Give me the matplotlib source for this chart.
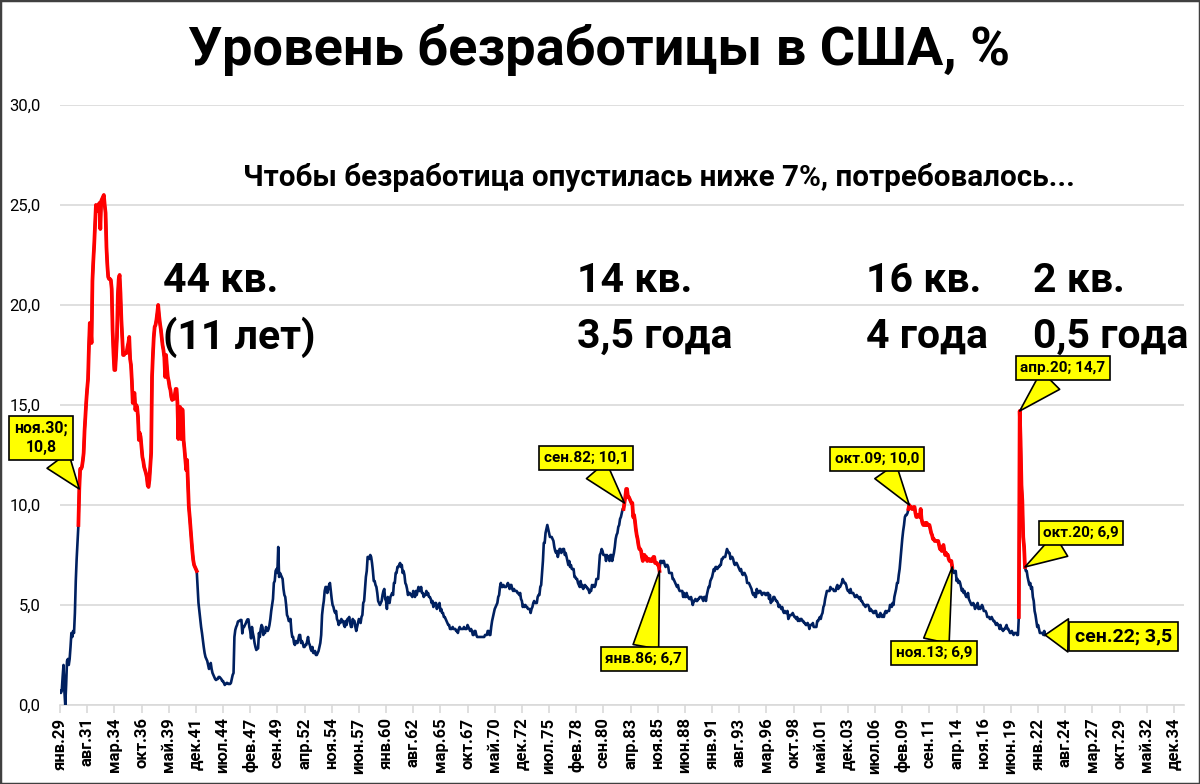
import numpy as np
import matplotlib
matplotlib.use("Agg")
import matplotlib.pyplot as plt
from matplotlib.patches import Rectangle

plt.rcParams['font.family'] = ['Roboto', 'DejaVu Sans']

# Уровень безработицы, % (помесячно, с января 1929)
unemp_1929_1939 = [
    0.7, 0.6, 0.7, 1.4, 2.0, 0.7, 0.0, 1.0, 2.2, 2.3, 2.0, 2.3,
    2.9, 3.6, 3.4, 3.7, 3.6, 4.6, 6.2, 7.3, 8.2, 9.0, 10.8, 11.8,
    11.8, 11.9, 12.2, 12.6, 13.7, 14.5, 15.2, 15.8, 16.3, 17.9, 19.1, 18.8,
    18.1, 21.2, 22.2, 23.0, 24.0, 25.0, 24.8, 24.7, 25.0, 25.1, 23.8, 25.2,
    25.3, 25.4, 25.5, 25.0, 24.6, 22.9, 22.0, 21.4, 21.3, 21.3, 21.25, 20.8,
    18.75, 17.6, 16.75, 16.75, 17.5, 18.4, 20.5, 21.3, 21.5, 20.6, 19.3, 18.4,
    17.5, 17.5, 17.6, 17.6, 17.6, 17.9, 18.1, 18.4, 17.3, 17.0, 16.2, 15.1,
    15.5, 15.6, 14.75, 15.0, 14.9, 14.4, 13.25, 13.6, 13.4, 12.9, 12.4, 12.2,
    11.9, 11.75, 11.6, 11.4, 11.0, 10.9, 11.25, 11.9, 12.6, 16.4, 17.5, 18.4,
    18.9, 19.0, 19.25, 19.6, 20.0, 19.5, 19.1, 18.8, 18.4, 18.0, 17.75, 17.4,
    16.4, 17.5, 16.9, 16.4, 16.2, 15.9, 15.75, 15.4, 15.25, 15.4, 15.3, 15.5,
]
unemp_1940_1947 = [
    15.8, 15.8, 15.1, 13.3, 14.9, 14.9, 13.3, 14.8, 14.75, 13.25, 12.8, 12.25,
    11.75, 12.25, 11.0, 9.9, 9.4, 8.8, 8.25, 7.7, 7.25, 7.0, 6.9, 6.8,
    6.7, 5.9, 5.1, 4.7, 4.3, 3.9, 3.6, 3.25, 2.9, 2.6, 2.4, 2.3,
    2.2, 2.0, 1.8, 1.9, 2.1, 1.8, 1.6, 1.5, 1.4, 1.3, 1.25, 1.3,
    1.3, 1.4, 1.4, 1.35, 1.3, 1.2, 1.2, 1.1, 1.0, 1.05, 1.1, 1.1,
    1.05, 1.05, 1.05, 1.1, 1.3, 1.5, 1.6, 3.4, 3.75, 3.9, 4.0, 4.17,
    4.2, 4.2, 4.25, 4.25, 3.58, 3.9, 3.9, 4.0, 4.08, 4.2, 4.28, 4.28,
    3.9, 3.7, 3.33, 3.9, 3.6, 3.4, 3.1, 2.9, 2.75, 2.8, 2.83, 3.6,
]
unemp_1948_1959 = [
    3.4, 3.8, 4.0, 3.9, 3.5, 3.6, 3.6, 3.9, 3.8, 3.7, 3.8, 4.0,
    4.3, 4.7, 5.0, 5.3, 6.1, 6.2, 6.7, 6.8, 6.6, 7.9, 6.4, 6.6,
    6.5, 6.4, 6.3, 5.8, 5.5, 5.4, 5.0, 4.5, 4.4, 4.2, 4.2, 4.3,
    3.7, 3.4, 3.4, 3.1, 3.0, 3.2, 3.1, 3.1, 3.3, 3.5, 3.5, 3.1,
    3.2, 3.1, 2.9, 2.9, 3.0, 3.0, 3.2, 3.4, 3.1, 3.0, 2.8, 2.7,
    2.9, 2.6, 2.6, 2.7, 2.5, 2.5, 2.6, 2.7, 2.9, 3.1, 3.5, 4.5,
    4.9, 5.2, 5.7, 5.9, 5.9, 5.6, 5.8, 6.0, 6.1, 5.7, 5.3, 5.0,
    4.9, 4.7, 4.6, 4.7, 4.3, 4.2, 4.0, 4.2, 4.1, 4.3, 4.2, 4.2,
    4.0, 3.9, 4.2, 4.0, 4.3, 4.3, 4.4, 4.1, 3.9, 3.9, 4.3, 4.2,
    4.2, 3.9, 3.7, 3.9, 4.1, 4.3, 4.2, 4.1, 4.4, 4.5, 5.1, 5.2,
    5.8, 6.4, 6.7, 7.4, 7.4, 7.3, 7.5, 7.4, 7.1, 6.7, 6.2, 6.2,
    6.0, 5.9, 5.6, 5.2, 5.1, 5.0, 5.1, 5.2, 5.5, 5.7, 5.8, 5.3,
]
unemp_1960_1969 = [
    5.2, 4.8, 5.4, 5.2, 5.1, 5.4, 5.5, 5.6, 5.5, 6.1, 6.1, 6.6,
    6.6, 6.9, 6.9, 7.0, 7.1, 6.9, 7.0, 6.6, 6.7, 6.5, 6.1, 6.0,
    5.8, 5.5, 5.6, 5.6, 5.5, 5.5, 5.4, 5.7, 5.6, 5.4, 5.7, 5.5,
    5.7, 5.9, 5.7, 5.7, 5.9, 5.6, 5.6, 5.4, 5.5, 5.5, 5.7, 5.5,
    5.6, 5.4, 5.4, 5.3, 5.1, 5.2, 4.9, 5.0, 5.1, 5.1, 4.8, 5.0,
    4.9, 5.1, 4.7, 4.8, 4.6, 4.6, 4.4, 4.4, 4.3, 4.2, 4.1, 4.0,
    4.0, 3.8, 3.8, 3.8, 3.9, 3.8, 3.8, 3.8, 3.7, 3.7, 3.6, 3.8,
    3.9, 3.8, 3.8, 3.8, 3.8, 3.9, 3.8, 3.8, 3.8, 4.0, 3.9, 3.8,
    3.7, 3.8, 3.7, 3.5, 3.5, 3.7, 3.7, 3.5, 3.4, 3.4, 3.4, 3.4,
    3.4, 3.4, 3.4, 3.4, 3.4, 3.5, 3.5, 3.5, 3.7, 3.7, 3.5, 3.5,
]
unemp_1970_1979 = [
    3.9, 4.2, 4.4, 4.6, 4.8, 4.9, 5.0, 5.1, 5.4, 5.5, 5.9, 6.1,
    5.9, 5.9, 6.0, 5.9, 5.9, 5.9, 6.0, 6.1, 6.0, 5.8, 6.0, 6.0,
    5.8, 5.7, 5.8, 5.7, 5.7, 5.7, 5.6, 5.6, 5.5, 5.6, 5.3, 5.2,
    4.9, 5.0, 4.9, 5.0, 4.9, 4.9, 4.8, 4.8, 4.8, 4.6, 4.8, 4.9,
    5.1, 5.2, 5.1, 5.1, 5.1, 5.4, 5.5, 5.5, 5.9, 6.0, 6.6, 7.2,
    8.1, 8.1, 8.6, 8.8, 9.0, 8.8, 8.6, 8.4, 8.4, 8.4, 8.3, 8.2,
    7.9, 7.7, 7.6, 7.7, 7.4, 7.6, 7.8, 7.8, 7.6, 7.7, 7.8, 7.8,
    7.5, 7.6, 7.4, 7.2, 7.0, 7.2, 6.9, 7.0, 6.8, 6.8, 6.8, 6.4,
    6.4, 6.3, 6.3, 6.1, 6.0, 5.9, 6.2, 5.9, 6.0, 5.8, 5.9, 6.0,
    5.9, 5.9, 5.8, 5.8, 5.6, 5.7, 5.7, 6.0, 5.9, 6.0, 5.9, 6.0,
]
unemp_1980_1989 = [
    6.3, 6.3, 6.3, 6.9, 7.5, 7.6, 7.8, 7.7, 7.5, 7.5, 7.5, 7.2,
    7.5, 7.4, 7.4, 7.2, 7.5, 7.5, 7.2, 7.4, 7.6, 7.9, 8.3, 8.5,
    8.6, 8.9, 9.0, 9.3, 9.4, 9.6, 9.8, 9.8, 10.1, 10.4, 10.8, 10.8,
    10.4, 10.4, 10.3, 10.2, 10.1, 10.1, 9.4, 9.5, 9.2, 8.8, 8.5, 8.3,
    8.0, 7.8, 7.8, 7.7, 7.4, 7.2, 7.5, 7.5, 7.3, 7.4, 7.2, 7.3,
    7.3, 7.2, 7.2, 7.3, 7.2, 7.4, 7.4, 7.1, 7.1, 7.1, 7.0, 7.0,
    6.7, 7.2, 7.2, 7.1, 7.2, 7.2, 7.0, 6.9, 7.0, 7.0, 6.9, 6.6,
    6.6, 6.6, 6.6, 6.3, 6.3, 6.2, 6.1, 6.0, 5.9, 6.0, 5.8, 5.7,
    5.7, 5.7, 5.7, 5.4, 5.6, 5.4, 5.4, 5.6, 5.4, 5.4, 5.3, 5.3,
    5.4, 5.2, 5.0, 5.2, 5.2, 5.3, 5.2, 5.2, 5.3, 5.3, 5.4, 5.4,
]
unemp_1990_1999 = [
    5.4, 5.3, 5.2, 5.4, 5.4, 5.2, 5.5, 5.7, 5.9, 5.9, 6.2, 6.3,
    6.4, 6.6, 6.8, 6.7, 6.9, 6.9, 6.8, 6.9, 6.9, 7.0, 7.0, 7.3,
    7.3, 7.4, 7.4, 7.4, 7.6, 7.8, 7.7, 7.6, 7.6, 7.3, 7.4, 7.4,
    7.3, 7.1, 7.0, 7.1, 7.1, 7.0, 6.9, 6.8, 6.7, 6.8, 6.6, 6.5,
    6.6, 6.6, 6.5, 6.4, 6.1, 6.1, 6.1, 6.0, 5.9, 5.8, 5.6, 5.5,
    5.6, 5.4, 5.4, 5.8, 5.6, 5.6, 5.7, 5.7, 5.6, 5.5, 5.6, 5.6,
    5.6, 5.5, 5.5, 5.6, 5.6, 5.3, 5.5, 5.1, 5.2, 5.2, 5.4, 5.4,
    5.3, 5.2, 5.2, 5.1, 4.9, 5.0, 4.9, 4.8, 4.9, 4.7, 4.6, 4.7,
    4.6, 4.6, 4.7, 4.3, 4.4, 4.5, 4.5, 4.5, 4.6, 4.5, 4.4, 4.4,
    4.3, 4.4, 4.2, 4.3, 4.2, 4.3, 4.3, 4.2, 4.2, 4.1, 4.1, 4.0,
]
unemp_2000_2009 = [
    4.0, 4.1, 4.0, 3.8, 4.0, 4.0, 4.0, 4.1, 3.9, 3.9, 3.9, 3.9,
    4.2, 4.2, 4.3, 4.4, 4.3, 4.5, 4.6, 4.9, 5.0, 5.3, 5.5, 5.7,
    5.7, 5.7, 5.7, 5.9, 5.8, 5.8, 5.8, 5.7, 5.7, 5.7, 5.9, 6.0,
    5.8, 5.9, 5.9, 6.0, 6.1, 6.3, 6.2, 6.1, 6.1, 6.0, 5.8, 5.7,
    5.7, 5.6, 5.8, 5.6, 5.6, 5.6, 5.5, 5.4, 5.4, 5.5, 5.4, 5.4,
    5.3, 5.4, 5.2, 5.2, 5.1, 5.0, 5.0, 4.9, 5.0, 5.0, 5.0, 4.9,
    4.7, 4.8, 4.7, 4.7, 4.6, 4.6, 4.7, 4.7, 4.5, 4.4, 4.5, 4.4,
    4.6, 4.5, 4.4, 4.5, 4.4, 4.6, 4.7, 4.6, 4.7, 4.7, 4.7, 5.0,
    5.0, 4.9, 5.1, 5.0, 5.4, 5.6, 5.8, 6.1, 6.1, 6.5, 6.8, 7.3,
    7.8, 8.3, 8.7, 9.0, 9.4, 9.5, 9.5, 9.6, 9.8, 10.0, 9.9, 9.9,
]
unemp_2010_2019 = [
    9.8, 9.8, 9.9, 9.9, 9.6, 9.4, 9.4, 9.5, 9.5, 9.4, 9.8, 9.3,
    9.1, 9.0, 9.0, 9.1, 9.0, 9.1, 9.0, 9.0, 9.0, 8.8, 8.6, 8.5,
    8.3, 8.3, 8.2, 8.2, 8.2, 8.2, 8.2, 8.0, 7.8, 7.8, 7.7, 7.9,
    8.0, 7.7, 7.5, 7.6, 7.5, 7.5, 7.3, 7.2, 7.2, 7.2, 6.9, 6.7,
    6.6, 6.7, 6.7, 6.2, 6.3, 6.1, 6.2, 6.1, 5.9, 5.7, 5.8, 5.6,
    5.7, 5.5, 5.4, 5.4, 5.6, 5.3, 5.2, 5.1, 5.0, 5.0, 5.1, 5.0,
    4.8, 4.9, 5.0, 5.1, 4.8, 4.9, 4.8, 4.9, 5.0, 4.9, 4.7, 4.7,
    4.7, 4.6, 4.4, 4.4, 4.4, 4.3, 4.3, 4.4, 4.3, 4.2, 4.2, 4.1,
    4.0, 4.1, 4.0, 4.0, 3.8, 4.0, 3.8, 3.8, 3.7, 3.8, 3.8, 3.9,
    4.0, 3.8, 3.8, 3.7, 3.6, 3.6, 3.7, 3.6, 3.5, 3.6, 3.6, 3.6,
]
unemp_2020_2022 = [
    3.5, 3.5, 4.4, 14.7, 13.2, 11.0, 10.2, 8.4, 7.9, 6.9, 6.7, 6.7,
    6.4, 6.2, 6.0, 6.1, 5.8, 5.9, 5.4, 5.2, 4.7, 4.5, 4.2, 3.9,
    4.0, 3.8, 3.6, 3.6, 3.6, 3.6, 3.5, 3.7, 3.5,
]

# Подписи оси X (каждые 31 месяц)
tick_labels = [
    'янв.29', 'авг.31', 'мар.34', 'окт.36', 'май.39', 'дек.41', 'июл.44',
    'фев.47', 'сен.49', 'апр.52', 'ноя.54', 'июн.57', 'янв.60', 'авг.62',
    'мар.65', 'окт.67', 'май.70', 'дек.72', 'июл.75', 'фев.78', 'сен.80',
    'апр.83', 'ноя.85', 'июн.88', 'янв.91', 'авг.93', 'мар.96', 'окт.98',
    'май.01', 'дек.03', 'июл.06', 'фев.09', 'сен.11', 'апр.14', 'ноя.16',
    'июн.19', 'янв.22', 'авг.24', 'мар.27', 'окт.29', 'май.32', 'дек.34',
]

# Периоды, выделенные красным (год, месяц начала; год, месяц конца)
red_periods = [((1930, 11), (1942, 1)), ((1982, 9), (1986, 1)),
               ((2009, 10), (2013, 11)), ((2020, 4), (2020, 10))]

# Выноски: текст, дата точки, положение текста (месяц от янв.29, %), размер шрифта
callouts = [
    ('ноя.30;\n10,8', (1930, 11), (-21.7, 13.35), 11.3),
    ('сен.82; 10,1', (1982, 9), (600, 12.35), 11),
    ('янв.86; 6,7', (1986, 1), (666, 2.3), 11),
    ('окт.09; 10,0', (2009, 10), (932, 12.3), 11),
    ('ноя.13; 6,9', (2013, 11), (997, 2.6), 11),
    ('апр.20; 14,7', (2020, 4), (1144, 16.85), 11),
    ('окт.20; 6,9', (2020, 10), (1165, 8.6), 11),
    ('сен.22; 3,5', (2022, 9), (1213, 3.43), 14),
]

# Подписи длительности: строка 1, строка 2, левый край (доля ширины рисунка)
durations = [('44 кв.', '(11 лет)', 0.136), ('14 кв.', '3,5 года', 0.481),
             ('16 кв.', '4 года', 0.722), ('2 кв.', '0,5 года', 0.861)]

NAVY = '#002060'
GRID = '#D9D9D9'


def month_index(ym):
    return (ym[0] - 1929) * 12 + ym[1] - 1


unemp = np.array(unemp_1929_1939 + unemp_1940_1947 + unemp_1948_1959 +
                 unemp_1960_1969 + unemp_1970_1979 + unemp_1980_1989 +
                 unemp_1990_1999 + unemp_2000_2009 + unemp_2010_2019 +
                 unemp_2020_2022)
months = np.arange(len(unemp))

fig = plt.figure(figsize=(12, 7.84), dpi=100)
ax = fig.add_axes([0.05, 0.1008, 0.9367, 0.7653])

ax.plot(months, unemp, color=NAVY, lw=1.9, solid_joinstyle='round', zorder=3)
for start, end in red_periods:
    i0 = month_index(start) - 1
    i1 = month_index(end)
    ax.plot(months[i0:i1 + 1], unemp[i0:i1 + 1], color='#FF0000', lw=2.7,
            solid_joinstyle='round', zorder=4)

ax.set_xlim(0, 1282.5)
ax.set_ylim(0, 30)
ax.set_yticks(np.arange(0, 31, 5))
ax.set_yticklabels([f'{v:.1f}'.replace('.', ',') for v in np.arange(0, 31, 5)],
                   fontsize=12)
ax.set_xticks(np.arange(0, 31 * len(tick_labels), 31))
ax.set_xticklabels(tick_labels, rotation=90, fontsize=12, fontweight='bold')
ax.grid(axis='y', color=GRID, lw=1.2)
ax.set_axisbelow(True)
for side in ['top', 'right', 'left']:
    ax.spines[side].set_visible(False)
ax.spines['bottom'].set_color(GRID)
ax.spines['bottom'].set_linewidth(1.2)
ax.tick_params(axis='y', length=0, pad=14)
ax.tick_params(axis='x', length=6, color=GRID, width=1.2, pad=3)

for text, ym, pos, fs in callouts:
    i = month_index(ym)
    ax.annotate(text, xy=(i, unemp[i]), xytext=pos, textcoords='data',
                ha='center', va='center', fontsize=fs, fontweight='bold',
                linespacing=1.3, annotation_clip=False, zorder=6,
                bbox=dict(boxstyle='square,pad=0.3', fc='#FFFF00', ec='black', lw=1.2),
                arrowprops=dict(arrowstyle='wedge,tail_width=1.7,shrink_factor=0.5',
                                fc='#FFFF00', ec='black', lw=1.2,
                                shrinkA=0, shrinkB=0))

fig.text(0.499, 0.936, 'Уровень безработицы в США, %', ha='center', va='center',
         fontsize=39, fontweight='bold')
fig.text(0.549, 0.774, 'Чтобы безработица опустилась ниже 7%, потребовалось...',
         ha='center', va='center', fontsize=21.3, fontweight='bold')

for line1, line2, xl in durations:
    fig.text(xl, 0.6416, line1, ha='left', va='center', fontsize=29.5, fontweight='bold')
    fig.text(xl, 0.5702, line2, ha='left', va='center', fontsize=29.5, fontweight='bold')

fig.patches.append(Rectangle((0, 0), 1, 1, transform=fig.transFigure,
                             fill=False, ec='#404040', lw=2.5))

fig.savefig('out.png', dpi=100)
